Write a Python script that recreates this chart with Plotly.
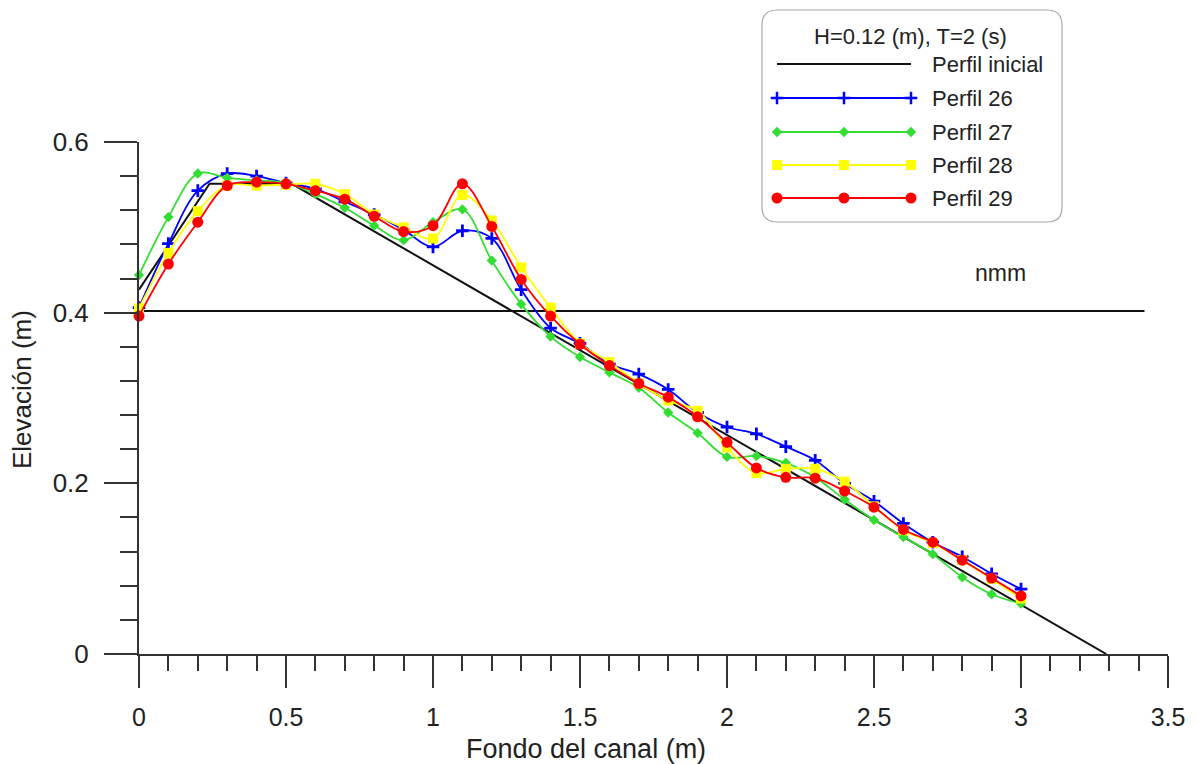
import plotly.graph_objects as go

# ---------------- data ----------------
x_pts = [0.0, 0.1, 0.2, 0.3, 0.4, 0.5, 0.6, 0.7, 0.8, 0.9, 1.0, 1.1, 1.2, 1.3, 1.4, 1.5,
         1.6, 1.7, 1.8, 1.9, 2.0, 2.1, 2.2, 2.3, 2.4, 2.5, 2.6, 2.7, 2.8, 2.9, 3.0]

perfil_26 = [0.406, 0.481, 0.543, 0.563, 0.560, 0.552, 0.545, 0.530, 0.515, 0.497, 0.477,
             0.496, 0.487, 0.427, 0.382, 0.364, 0.340, 0.328, 0.310, 0.283, 0.266, 0.258,
             0.243, 0.227, 0.200, 0.179, 0.153, 0.131, 0.114, 0.094, 0.076]
perfil_27 = [0.444, 0.512, 0.563, 0.558, 0.555, 0.552, 0.539, 0.523, 0.502, 0.485, 0.506,
             0.521, 0.461, 0.410, 0.372, 0.348, 0.330, 0.312, 0.283, 0.259, 0.231, 0.232,
             0.224, 0.207, 0.181, 0.157, 0.137, 0.117, 0.090, 0.070, 0.059]
perfil_28 = [0.405, 0.470, 0.519, 0.549, 0.549, 0.550, 0.551, 0.539, 0.515, 0.500, 0.487,
             0.538, 0.508, 0.453, 0.406, 0.364, 0.342, 0.317, 0.297, 0.285, 0.242, 0.212,
             0.217, 0.217, 0.202, 0.173, 0.145, 0.130, 0.110, 0.088, 0.065]
perfil_29 = [0.396, 0.457, 0.506, 0.549, 0.553, 0.551, 0.543, 0.533, 0.513, 0.495, 0.502,
             0.551, 0.501, 0.439, 0.396, 0.363, 0.338, 0.317, 0.301, 0.278, 0.248, 0.218,
             0.207, 0.206, 0.191, 0.172, 0.146, 0.131, 0.110, 0.089, 0.068]

inicial_x = [0.0, 0.24, 0.52, 3.29]
inicial_y = [0.427, 0.551, 0.551, 0.0]

nmm_x = [0.0, 3.42]
nmm_level = 0.402

x_tickvals = [0, 0.5, 1, 1.5, 2, 2.5, 3, 3.5]
x_ticktext = ["0", "0.5", "1", "1.5", "2", "2.5", "3", "3.5"]
y_tickvals = [0, 0.2, 0.4, 0.6]
y_ticktext = ["0", "0.2", "0.4", "0.6"]

legend_title = "H=0.12 (m), T=2 (s)"
series = [
    ("Perfil 26", perfil_26, "#0000ff", "cross-thin", 9),
    ("Perfil 27", perfil_27, "#33dd33", "diamond", 8),
    ("Perfil 28", perfil_28, "#ffff00", "square", 10),
    ("Perfil 29", perfil_29, "#ff0000", "circle", 11),
]

# ---------------- figure ----------------
W, H = 1197, 764
FONT = "Liberation Sans, Arial, sans-serif"
AX = "#333333"

fig = go.Figure()

# initial profile
fig.add_trace(go.Scatter(x=inicial_x, y=inicial_y, mode="lines",
                         line=dict(color="#111111", width=2), showlegend=False,
                         cliponaxis=False))
# still water level
fig.add_trace(go.Scatter(x=nmm_x, y=[nmm_level] * len(nmm_x), mode="lines",
                         line=dict(color="#111111", width=2), showlegend=False,
                         cliponaxis=False))

for name, vals, col, sym, sz in series:
    mk = dict(color=col, size=sz, symbol=sym)
    if sym == "cross-thin":
        mk["line"] = dict(color=col, width=2.8)
    fig.add_trace(go.Scatter(x=x_pts, y=vals, mode="lines+markers", name=name,
                             line=dict(color=col, width=1.8, shape="spline", smoothing=1.0),
                             marker=mk, showlegend=False, cliponaxis=False))

# ---------- custom legend on a pixel-space overlay axis ----------
lg_left, lg_right, lg_top, lg_bot, r = 762, 1062, 10, 222, 15
line_x0, line_x1 = 777, 911
text_x = 930
rows_y = [64, 98, 132, 165, 198]

fig.add_trace(go.Scatter(x=[line_x0, line_x1], y=[rows_y[0]] * 2, mode="lines",
                         line=dict(color="#111111", width=2), xaxis="x2", yaxis="y2",
                         showlegend=False, hoverinfo="skip"))
for (name, vals, col, sym, sz), ry in zip(series, rows_y[1:]):
    mk = dict(color=col, size=sz, symbol=sym)
    if sym == "cross-thin":
        mk["line"] = dict(color=col, width=2.5)
    fig.add_trace(go.Scatter(x=[line_x0, (line_x0 + line_x1) / 2, line_x1], y=[ry] * 3,
                             mode="lines+markers", line=dict(color=col, width=1.8),
                             marker=mk, xaxis="x2", yaxis="y2", showlegend=False,
                             hoverinfo="skip"))

box_path = (f"M {lg_left + r},{lg_top} L {lg_right - r},{lg_top} "
            f"Q {lg_right},{lg_top} {lg_right},{lg_top + r} "
            f"L {lg_right},{lg_bot - r} Q {lg_right},{lg_bot} {lg_right - r},{lg_bot} "
            f"L {lg_left + r},{lg_bot} Q {lg_left},{lg_bot} {lg_left},{lg_bot - r} "
            f"L {lg_left},{lg_top + r} Q {lg_left},{lg_top} {lg_left + r},{lg_top} Z")
shapes = [dict(type="path", path=box_path, xref="x2", yref="y2",
               line=dict(color="#aaaaaa", width=1.2), fillcolor="rgba(255,255,255,0)",
               layer="below")]

annotations = [
    dict(x=910, y=36, xref="x2", yref="y2", text=legend_title, showarrow=False,
         font=dict(family=FONT, size=22, color="#222"), xanchor="center", yanchor="middle"),
]
labels = ["Perfil inicial"] + [s[0] for s in series]
for lab, ry in zip(labels, rows_y):
    annotations.append(dict(x=text_x, y=ry, xref="x2", yref="y2", text=lab, showarrow=False,
                            font=dict(family=FONT, size=22, color="#222"),
                            xanchor="left", yanchor="middle"))

# axis titles & nmm label
annotations.append(dict(x=586, y=749, xref="x2", yref="y2", text="Fondo del canal (m)",
                        showarrow=False, font=dict(family=FONT, size=27, color="#222"),
                        xanchor="center", yanchor="middle"))
annotations.append(dict(x=22, y=390, xref="x2", yref="y2", text="Elevación (m)",
                        showarrow=False, textangle=-90,
                        font=dict(family=FONT, size=26, color="#222"),
                        xanchor="center", yanchor="middle"))
annotations.append(dict(x=2.93, y=0.447, xref="x", yref="y", text="nmm", showarrow=False,
                        font=dict(family=FONT, size=23, color="#222"),
                        xanchor="center", yanchor="middle"))

x_dom = [139 / W, 1168 / W]
y_dom = [(H - 654) / H, (H - 142) / H]

fig.update_layout(
    width=W, height=H,
    margin=dict(l=0, r=0, t=0, b=0),
    paper_bgcolor="white", plot_bgcolor="rgba(0,0,0,0)",
    font=dict(family=FONT, color="#222"),
    showlegend=False,
    xaxis=dict(domain=x_dom, range=[0, 3.5], tickvals=x_tickvals, ticktext=x_ticktext,
               ticks="outside", ticklen=32, tickwidth=2, tickcolor=AX,
               showline=True, linecolor=AX, linewidth=2, showgrid=False, zeroline=False,
               tickfont=dict(family=FONT, size=25, color="#222"), ticklabelstandoff=8,
               minor=dict(dtick=0.1, tick0=0, ticks="outside", ticklen=15, tickwidth=2,
                          tickcolor=AX, showgrid=False),
               anchor="y", automargin=False, fixedrange=True),
    yaxis=dict(domain=y_dom, range=[0, 0.6], tickvals=y_tickvals, ticktext=y_ticktext,
               ticks="outside", ticklen=33, tickwidth=2, tickcolor=AX,
               showline=True, linecolor=AX, linewidth=2, showgrid=False, zeroline=False,
               tickfont=dict(family=FONT, size=26, color="#222"), ticklabelstandoff=10,
               minor=dict(dtick=0.04, tick0=0, ticks="outside", ticklen=17, tickwidth=2,
                          tickcolor=AX, showgrid=False),
               anchor="x", automargin=False, fixedrange=True),
    xaxis2=dict(domain=[0, 1], range=[0, W], visible=False, anchor="y2", fixedrange=True),
    yaxis2=dict(domain=[0, 1], range=[H, 0], visible=False, anchor="x2", fixedrange=True),
    shapes=shapes,
    annotations=annotations,
)

fig.write_html("out.html")
